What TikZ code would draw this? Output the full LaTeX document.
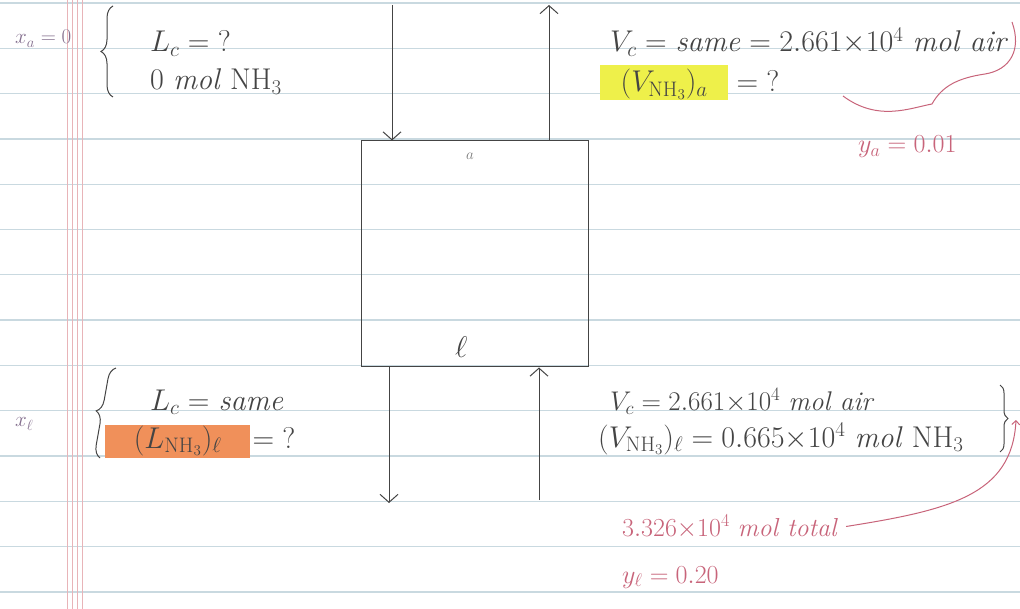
\RequirePackage{fix-cm}
\documentclass[tikz,border=0pt]{standalone}
\usetikzlibrary{arrows.meta,decorations.pathreplacing,positioning}
\definecolor{pencil}{HTML}{444444}
\definecolor{redink}{HTML}{C8647A}
\definecolor{violetink}{HTML}{85708F}
\definecolor{ruleblue}{HTML}{C9D9E0}
\definecolor{marginpink}{HTML}{E8B4B8}
\definecolor{hlyellow}{HTML}{EEF04A}
\definecolor{hlorange}{HTML}{F0905A}
\newcommand{\hand}{\fontsize{30}{34}\selectfont}
\newcommand{\handred}{\fontsize{26}{30}\selectfont}
\newcommand{\handsmall}{\fontsize{21}{24}\selectfont}
\begin{document}
\begin{tikzpicture}[x=1pt,y=-1pt,>={Straight Barb[length=8pt,width=18pt]},
  pen/.style={draw=pencil,line width=1pt},
  txt/.style={anchor=base west,inner sep=0pt,text=pencil,font=\hand},
  redtxt/.style={txt,text=redink,font=\handred},
  violettxt/.style={txt,text=violetink,font=\handsmall},
  hl/.style={txt,fill=#1,inner xsep=3pt}]
\fill[white] (0,0) rectangle (1020,609);
\useasboundingbox (0,0) rectangle (1020,609);
\foreach \k in {0,...,13}
  \draw[ruleblue,line width=1.3pt] (0,3+45.3*\k) -- (1020,3+45.3*\k);
\foreach \x in {67,72,77,82}
  \draw[marginpink,line width=0.8pt] (\x,0) -- (\x,609);

\node[pen,minimum width=227pt,minimum height=226pt,inner sep=0pt] (col) at (474.5,254) {};
\node[txt,font=\fontsize{15}{17}\selectfont,text=pencil!70] (top) at (466,160) {$a$};
\node[txt] (bot) at (455,358) {$\ell$};

\coordinate (Lin) at (392,5);
\coordinate (Vout) at (549,5);
\coordinate (Lout) at (389,503);
\coordinate (Vin) at (539,500);
\draw[pen,->] (Lin) -- (Lin |- col.north);
\draw[pen,->] (Vout |- col.north) -- (Vout);
\draw[pen,->] (Lout |- col.south) -- (Lout);
\draw[pen,->] (Vin) -- (Vin |- col.south);

\node[violettxt] (xa) at (15,44) {$x_a = 0$};
\draw[pen,decorate,decoration={brace,amplitude=12pt}] (113,97) -- (113,6);
\node[txt] (LcA) at (150,52) {$L_c = {?}$};
\node[txt] (LnhA) at (150,90) {0 \textit{mol} NH$_3$};

\node[txt] (VcA) at (610,52) {$V_c =$ \textit{same} $= 2.661{\times}10^4$ \textit{mol air}};
\node[hl=hlyellow,text height=27pt,text depth=8pt,minimum width=128pt] (VnhA) at (600,92) {$(V_{\mathrm{NH_3}})_a$};
\node[txt] (VnhAq) at ([xshift=8pt]VnhA.base east) {$= {?}$};
\draw[redink,line width=1pt] (1012,22) .. controls (1022,50) and (1010,70) .. (985,74)
  .. controls (958,78) and (942,86) .. (932,104) .. controls (910,108) and (878,122) .. (843,96);
\node[redtxt] (ya) at (858,153) {$y_a = 0.01$};

\node[violettxt] (xl) at (15,427) {$x_\ell$};
\draw[pen,decorate,decoration={brace,amplitude=12pt}] (100,458) -- (116,368);
\node[txt] (LcL) at (150,410) {$L_c =$ \textit{same}};
\node[hl=hlorange,text height=23pt,text depth=10pt,minimum width=145pt] (LnhL) at (105,448) {$(L_{\mathrm{NH_3}})_\ell$};
\node[txt] (LnhLq) at ([xshift=2pt]LnhL.base east) {$= {?}$};

\node[txt,font=\fontsize{27}{31}\selectfont] (VcL) at (610,410) {$V_c = 2.661{\times}10^4$ \textit{mol air}};
\node[txt] (VnhL) at (598,447) {$(V_{\mathrm{NH_3}})_\ell = 0.665{\times}10^4$ \textit{mol} NH$_3$};
\draw[pen,decorate,decoration={brace,amplitude=8pt}] (1000,385) -- (1000,452);
\node[redtxt] (tot) at (622,536) {$3.326{\times}10^4$ \textit{mol total}};
\draw[redink,line width=1pt,->,>={Straight Barb[length=4pt,width=8pt]}] ([xshift=8pt]tot.east)
  .. controls (950,510) and (1012,495) .. (1016,420);
\node[redtxt] (yl) at (622,583) {$y_\ell = 0.20$};
\end{tikzpicture}
\end{document}
